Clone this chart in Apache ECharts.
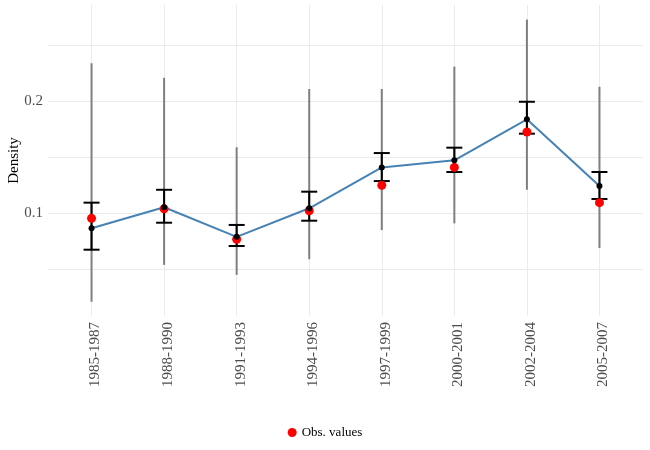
<!DOCTYPE html>
<html>
<head>
<meta charset="utf-8">
<script src="https://cdn.jsdelivr.net/npm/echarts@6/dist/echarts.min.js"></script>
<style>html,body{margin:0;padding:0;background:#fff}#c{width:650px;height:450px}</style>
</head>
<body>
<div id="c"></div>
<script>
const categories = ['1985-1987','1988-1990','1991-1993','1994-1996','1997-1999','2000-2001','2002-2004','2005-2007'];
const outerLow  = [0.021, 0.054, 0.045, 0.059, 0.085, 0.091, 0.121, 0.069];
const outerHigh = [0.234, 0.221, 0.159, 0.211, 0.211, 0.231, 0.273, 0.213];
const innerLow  = [0.0675, 0.0916, 0.0708, 0.0934, 0.1288, 0.1369, 0.1711, 0.1128];
const innerHigh = [0.1095, 0.121, 0.0896, 0.1193, 0.1538, 0.1586, 0.1996, 0.1369];
const estimate  = [0.0866, 0.1054, 0.079, 0.1045, 0.141, 0.1473, 0.1839, 0.1244];
const observed  = [0.0955, 0.104, 0.0768, 0.1023, 0.125, 0.141, 0.1726, 0.1095];
const yGridValues = [0.05, 0.1, 0.15, 0.2, 0.25];
const yTickLabels = [0.1, 0.2];

const FONT = 'Liberation Serif';
const chart = echarts.init(document.getElementById('c'));

const idx = categories.map((_, i) => i);
const outerData = idx.map(i => [i, outerLow[i], outerHigh[i]]);
const innerData = idx.map(i => [i, innerLow[i], innerHigh[i]]);

chart.setOption({
  animation: false,
  backgroundColor: '#fff',
  grid: { left: 48, right: 7, top: 5, bottom: 134, containLabel: false, outerBoundsMode: 'none' },
  legend: {
    bottom: 6, left: 'center',
    data: [{ name: 'Obs. values', icon: 'circle' }],
    itemWidth: 9, itemHeight: 9, itemGap: 5,
    textStyle: { fontFamily: FONT, fontSize: 13, color: '#000' }
  },
  xAxis: {
    type: 'value', min: -0.6, max: 7.6, splitNumber: 8,
    axisLine: { show: false }, axisTick: { show: false }, splitLine: { show: false },
    axisLabel: {
      rotate: 90, margin: 6, color: '#4d4d4d', fontFamily: FONT, fontSize: 15,
      verticalAlign: 'top', lineHeight: 8,
      showMinLabel: false, showMaxLabel: false,
      formatter: v => (Number.isInteger(v) && categories[v] !== undefined) ? categories[v] : ''
    }
  },
  yAxis: {
    type: 'value', min: 0.0083, max: 0.286,
    name: 'Density', nameLocation: 'middle', nameRotate: 90, nameGap: 26, nameMoveOverlap: false,
    nameTextStyle: { fontFamily: FONT, fontSize: 15, color: '#000' },
    axisLine: { show: false }, axisTick: { show: false }, splitLine: { show: false },
    axisLabel: {
      margin: 5, color: '#4d4d4d', fontFamily: FONT, fontSize: 15,
      showMinLabel: false, showMaxLabel: false,
      formatter: v => yTickLabels.some(t => Math.abs(t - v) < 1e-9) ? String(v) : ''
    }
  },
  series: [
    {
      type: 'line', data: [], z: 0, silent: true,
      markLine: {
        z: 0, silent: true, symbol: 'none', label: { show: false },
        lineStyle: { color: '#ebebeb', width: 1, type: 'solid' },
        data: yGridValues.map(v => ({ yAxis: v })).concat(idx.map(i => ({ xAxis: i })))
      }
    },
    {
      type: 'custom', z: 12, silent: true,
      data: outerData,
      renderItem: (params, api) => {
        const p1 = api.coord([api.value(0), api.value(1)]);
        const p2 = api.coord([api.value(0), api.value(2)]);
        return { type: 'line', shape: { x1: p1[0], y1: p1[1], x2: p2[0], y2: p2[1] },
          style: { stroke: '#7f7f7f', lineWidth: 2 } };
      }
    },
    {
      type: 'custom', z: 13, silent: true,
      data: innerData,
      renderItem: (params, api) => {
        const lo = api.coord([api.value(0), api.value(1)]);
        const hi = api.coord([api.value(0), api.value(2)]);
        const w = 8;
        const st = { stroke: '#000', lineWidth: 2 };
        return { type: 'group', children: [
          { type: 'line', shape: { x1: lo[0], y1: lo[1], x2: hi[0], y2: hi[1] }, style: st },
          { type: 'line', shape: { x1: lo[0] - w, y1: lo[1], x2: lo[0] + w, y2: lo[1] }, style: st },
          { type: 'line', shape: { x1: hi[0] - w, y1: hi[1], x2: hi[0] + w, y2: hi[1] }, style: st }
        ] };
      }
    },
    {
      type: 'line', z: 14, silent: true, symbol: 'none',
      data: idx.map(i => [i, estimate[i]]),
      lineStyle: { color: '#4682b4', width: 2 }
    },
    {
      name: 'Obs. values', type: 'scatter', z: 15,
      data: idx.map(i => [i, observed[i]]),
      symbol: 'circle', symbolSize: 9,
      itemStyle: { color: '#ff0000', opacity: 1 }
    },
    {
      type: 'scatter', z: 16, silent: true,
      data: idx.map(i => [i, estimate[i]]),
      symbol: 'circle', symbolSize: 6,
      itemStyle: { color: '#000', opacity: 1 }
    }
  ]
});
</script>
</body>
</html>
